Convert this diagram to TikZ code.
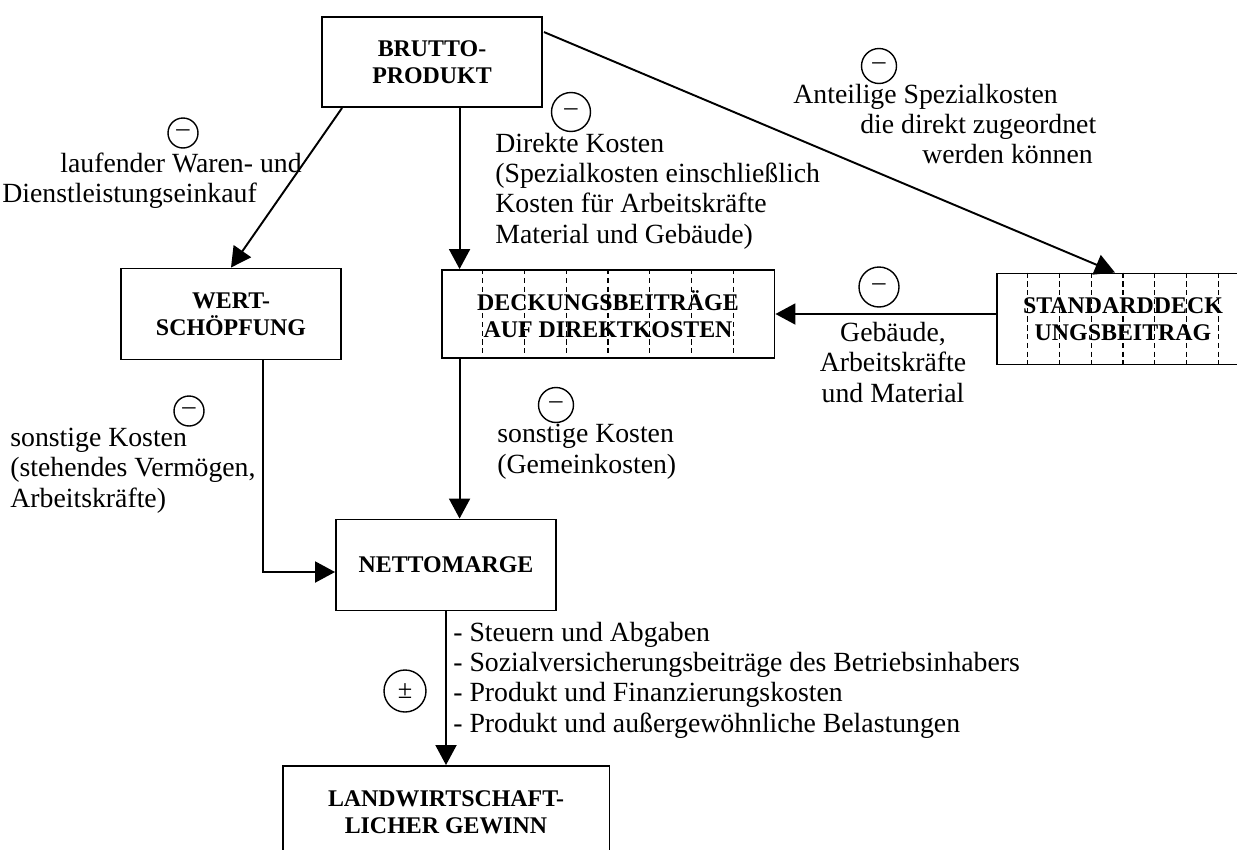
\documentclass[tikz,border=0pt]{standalone}
\usepackage{fontspec}
\setmainfont{Liberation Serif}
\usetikzlibrary{calc,arrows.meta,positioning}

\begin{document}
\begin{tikzpicture}[x=0.02cm,y=-0.02cm,
  box/.style={draw,line width=1.1pt,align=center,inner sep=0pt,
    font=\fontsize{13.6}{15.4}\selectfont\bfseries},
  arr/.style={line width=1.1pt,-{Triangle[length=4mm,width=4.2mm]}},
  sign/.style={draw,circle,line width=0.8pt,inner sep=0pt,
    font=\fontsize{15}{15}\selectfont},
  txt/.style={inner sep=0pt,font=\fontsize{15.8}{17.1}\selectfont},
  grid/.style={line width=0.6pt,dash pattern=on 3pt off 2pt}]
  \useasboundingbox(0,0)rectangle(1237,849);
  % boxes
  \node[box,minimum width=4.4cm,minimum height=1.8cm](brutto)at(432,62){BRUTTO-\\PRODUKT};
  \node[box,minimum width=4.4cm,minimum height=1.82cm](wert)at(231,314){WERT-\\SCHÖPFUNG};
  \node[box,minimum width=6.66cm,minimum height=1.76cm](deckung)at(608,314){DECKUNGSBEITRÄGE\\AUF DIREKTKOSTEN};
  \node[box,minimum width=5.04cm,minimum height=1.82cm](standard)at(1123,319){STANDARDDECK\\UNGSBEITRAG};
  \node[box,minimum width=4.4cm,minimum height=1.82cm](netto)at(446,565){NETTOMARGE};
  \node[box,minimum width=6.54cm,minimum height=1.84cm](gewinn)at(446,812){LANDWIRTSCHAFT-\\LICHER GEWINN};
  % dashed divisions
  \foreach \i in {1,...,7}{
    \draw[grid]($(deckung.north west)!\i/8!(deckung.north east)$)--($(deckung.south west)!\i/8!(deckung.south east)$);
    \draw[grid]($(standard.north west)!\i/8!(standard.north east)$)--($(standard.south west)!\i/8!(standard.south east)$);
  }
  % connectors
  \coordinate(dline)at($(deckung.north west)+(19,0)$);
  \draw[arr]($(brutto.south west)+(21,0)$)--(wert.north);
  \draw[arr](brutto.south -| dline)--(dline);
  \draw[arr]($(brutto.north east)+(1,16)$)--($(standard.north)+(-8,0)$);
  \draw[arr](standard.west |- deckung.east)--(deckung.east);
  \draw[arr](deckung.south -| dline)--(netto.north -| dline);
  \draw[arr]($(wert.south)+(32,0)$)|-($(netto.west)+(0,7)$);
  \draw[arr](netto.south)--(gewinn.north);
  % signs
  \node[sign,minimum size=0.6cm](s1)at(183,133){–};
  \node[sign,minimum size=0.78cm](s2)at(571,112){–};
  \node[sign,minimum size=0.7cm](s3)at(879,66){–};
  \node[sign,minimum size=0.8cm](s4)at(879,287){–};
  \node[sign,minimum size=0.7cm](s5)at(556,405){–};
  \node[sign,minimum size=0.6cm](s6)at(189,411){–};
  \node[sign,minimum size=0.84cm](s7)at(405,691){±};
  % labels (base = last line)
  \node[txt,anchor=base west](lauf1)at(60,172){laufender Waren- und};
  \node[txt,anchor=base west](lauf2)at(2,202){Dienstleistungseinkauf};
  \node[txt,anchor=base west,align=left](direkt)at(495,243){Direkte Kosten\\(Spezialkosten einschließlich\\Kosten für Arbeitskräfte\\Material und Gebäude)};
  \node[txt,anchor=base west](ant1)at(793,103){Anteilige Spezialkosten};
  \node[txt,anchor=base west](ant2)at(860,133){die direkt zugeordnet};
  \node[txt,anchor=base west](ant3)at(922,163){werden können};
  \node[txt,anchor=base,align=center](geb)at(893,402){Gebäude,\\Arbeitskräfte\\und Material};
  \node[txt,anchor=base west,align=left](gemein)at(497,473){sonstige Kosten\\(Gemeinkosten)};
  \node[txt,anchor=base west,align=left](sonst)at(10,507){sonstige Kosten\\(stehendes Vermögen,\\Arbeitskräfte)};
  \node[txt,anchor=base west,align=left](abgaben)at(453,732){- Steuern und Abgaben\\- Sozialversicherungsbeiträge des Betriebsinhabers\\- Produkt und Finanzierungskosten\\- Produkt und außergewöhnliche Belastungen};
\end{tikzpicture}
\end{document}
